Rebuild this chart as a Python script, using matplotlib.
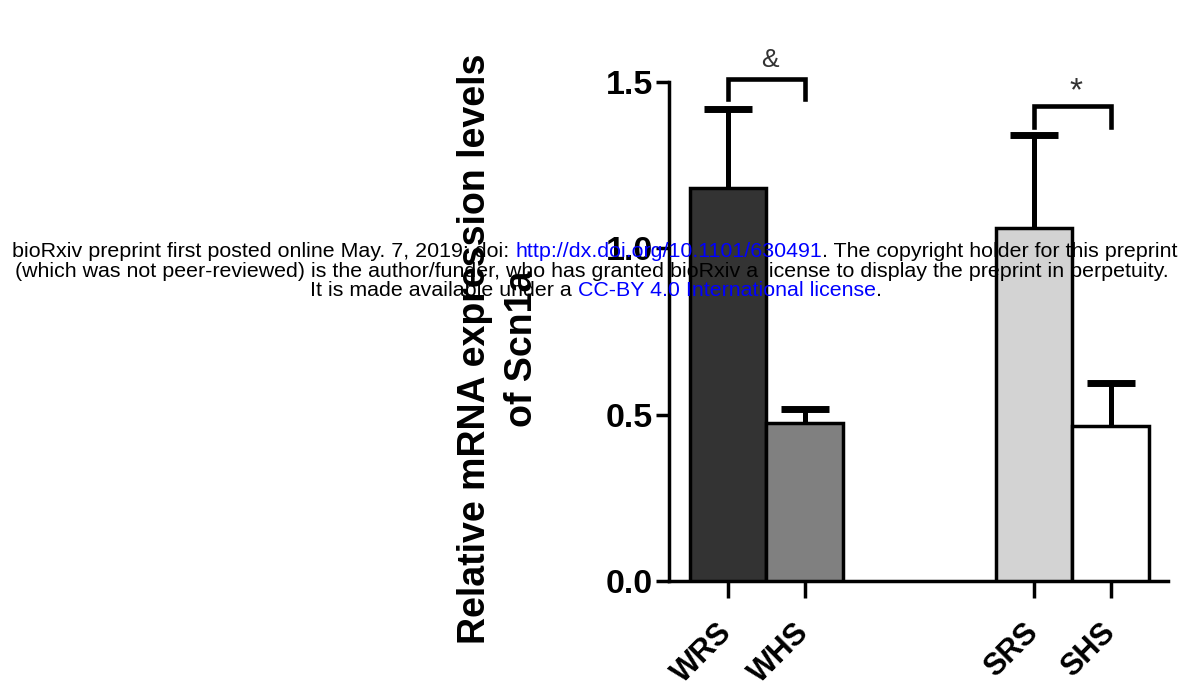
import matplotlib.pyplot as plt

plt.rcParams['font.family'] = ['Liberation Sans', 'DejaVu Sans']

groups = ['WRS', 'WHS', 'SRS', 'SHS']
means = [1.18, 0.475, 1.06, 0.465]
sem = [0.24, 0.042, 0.28, 0.13]
bar_colors = ['#333333', '#808080', '#d3d3d3', '#ffffff']

# significance brackets: (left group, right group, mark)
comparisons = [('WRS', 'WHS', '&'), ('SRS', 'SHS', '*')]

positions = [0.0, 1.0, 4.0, 5.0]


def main() -> None:
    fig = plt.figure(figsize=(11.81, 6.92), dpi=100)
    ax = fig.add_axes([669 / 1181, 1 - 581 / 692, 499 / 1181, 499 / 692])

    # bars sit above the error bars so only the upper half shows
    ax.bar(positions, means, width=1.0, color=bar_colors, edgecolor='black',
           linewidth=2.5, zorder=3)
    ax.errorbar(positions, means, yerr=sem, fmt='none',
                ecolor='black', elinewidth=3.6, capsize=17, capthick=5, zorder=2)

    pos = dict(zip(groups, positions))
    bracket_y = {'&': (1.51, 1.45, 1.565), '*': (1.428, 1.365, 1.47)}
    mark_size = {'&': 19, '*': 24}
    for left, right, mark in comparisons:
        top, leg, text_y = bracket_y[mark]
        x0, x1 = pos[left], pos[right]
        ax.plot([x0, x0, x1, x1], [leg, top, top, leg], color='black',
                lw=3.3, clip_on=False, solid_joinstyle='miter')
        ax.text((x0 + x1) / 2 + 0.05, text_y, mark, ha='center', va='center',
                fontsize=mark_size[mark], color='#333333')

    ax.set_xlim(-0.771, 5.75)
    ax.set_ylim(0, 1.5)
    ax.set_yticks([0.0, 0.5, 1.0, 1.5])
    ax.set_yticklabels(['0.0', '0.5', '1.0', '1.5'], fontsize=24.5, fontweight='bold')
    ax.set_xticks(positions)
    ax.set_xticklabels(groups, fontsize=22, fontweight='bold', rotation=45,
                       ha='right', va='center', rotation_mode='anchor')

    for side in ('top', 'right'):
        ax.spines[side].set_visible(False)
    for side in ('left', 'bottom'):
        ax.spines[side].set_linewidth(2.5)
    ax.tick_params(axis='y', length=9.5, width=2.5, pad=2)
    ax.tick_params(axis='x', length=12, width=2.5, pad=22)

    ax.set_ylabel('Relative mRNA expression levels\nof Scn1a', fontsize=27,
                  fontweight='bold', linespacing=1.4)
    ax.yaxis.set_label_coords(-0.2585, 0.465)

    # preprint notice across the figure
    W, H = 1181, 692
    lines = [
        (12, 257, [('bioRxiv preprint first posted online May. 7, 2019; doi: ', 'black'),
                   ('http://dx.doi.org/10.1101/630491', '#0000ff'),
                   ('. The copyright holder for this preprint', 'black')]),
        (15, 277, [('(which was not peer-reviewed) is the author/funder, who has granted '
                    'bioRxiv a license to display the preprint in perpetuity.', 'black')]),
        (310, 296, [('It is made available under a ', 'black'),
                    ('CC-BY 4.0 International license', '#0000ff'),
                    ('.', 'black')]),
    ]
    for x, y, pieces in lines:
        prev = None
        for text, color in pieces:
            if prev is None:
                prev = fig.text(x / W, 1 - y / H, text, color=color, fontsize=15.4,
                                ha='left', va='baseline', zorder=10)
            else:
                prev = ax.annotate(text, xy=(1, 0), xycoords=prev, color=color,
                                   fontsize=15.4, ha='left', va='bottom',
                                   annotation_clip=False, zorder=10)

    fig.savefig('out.png', dpi=100)


if __name__ == '__main__':
    main()
